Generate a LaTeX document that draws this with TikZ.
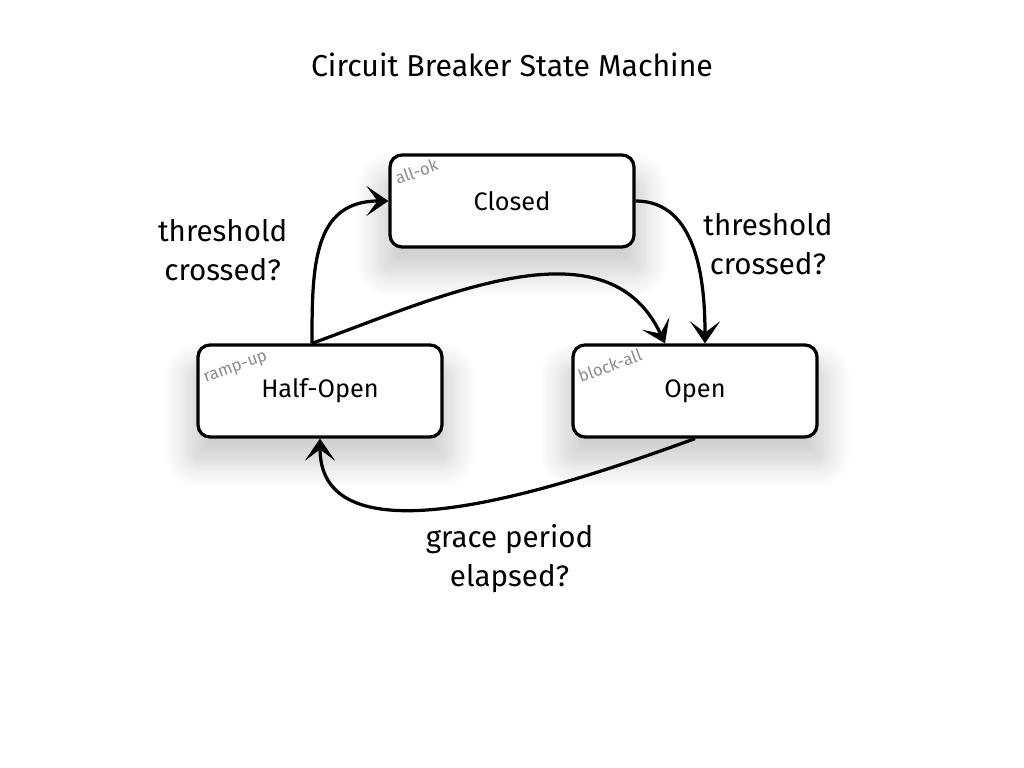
\documentclass[tikz,border=0pt]{standalone}
\usepackage{fontspec}
\setmainfont{Fira Sans}
\usetikzlibrary{arrows.meta,positioning,shadows.blur}

\begin{document}
\begin{tikzpicture}[>={Stealth[length=5.5mm,width=7.5mm,inset=2.8mm]}, node distance=4.75cm, line width=2.3pt, auto,
    phase/.style={draw, rounded corners=0.3cm, minimum width=6.1cm, minimum height=2.3cm, fill=white,
        font=\fontsize{18}{21}\selectfont,
        blur shadow={shadow xshift=0cm, shadow yshift=-0.55cm, shadow scale=1.1, shadow opacity=18, shadow blur radius=0.5cm, shadow blur steps=12}},
    tag/.style={rotate=20, anchor=base west, text=black!45, font=\fontsize{12}{14}\selectfont, inner sep=0pt},
    cond/.style={align=center, font=\fontsize{21}{28}\selectfont}]
    \useasboundingbox (0,0) rectangle (25.6,19.2);

    \node[phase]                               (closed)                                                 at (12.8,14.175) {Closed};
    \node[phase]                               (halfopen) [on grid, below left=4.75cm and 4.8cm of closed]               {Half-Open};
    \node[phase]                               (open)     [on grid, below right=4.75cm and 4.575cm of closed]            {Open};
    \node[font=\fontsize{21.5}{25}\selectfont] (title)    [on grid, above=3.4cm of closed]                               {Circuit Breaker State Machine};

    \node[tag] (closedtag)   at ([shift={(0.2cm,-0.8cm)}]closed.north west)    {all-ok};
    \node[tag] (halfopentag) at ([shift={(0.2cm,-1.0cm)}]halfopen.north west)  {ramp-up};
    \node[tag] (opentag)     at ([shift={(0.2cm,-1.0cm)}]open.north west)      {block-all};

    \path[->]   ([xshift=-0.2cm]halfopen.north) edge [out=90, in=180, looseness=1.2]  node[cond, pos=0.26, xshift=-0.5cm]                {threshold\\crossed?}     (closed.west)
                ([xshift=-0.2cm]halfopen.north) edge [out=20, in=115]                                                                                           ([xshift=-0.75cm]open.north)
                (closed.east)                   edge [out=0, in=90]                   node[cond, pos=0.68, xshift=-0.1cm]                 {threshold\\crossed?}     ([xshift=0.25cm]open.north)
                (open.south)                    edge [out=200, in=-90, looseness=0.9] node[cond, pos=0.4, anchor=north, yshift=-0.55cm]   {grace period\\elapsed?}  (halfopen.south);
\end{tikzpicture}
\end{document}
